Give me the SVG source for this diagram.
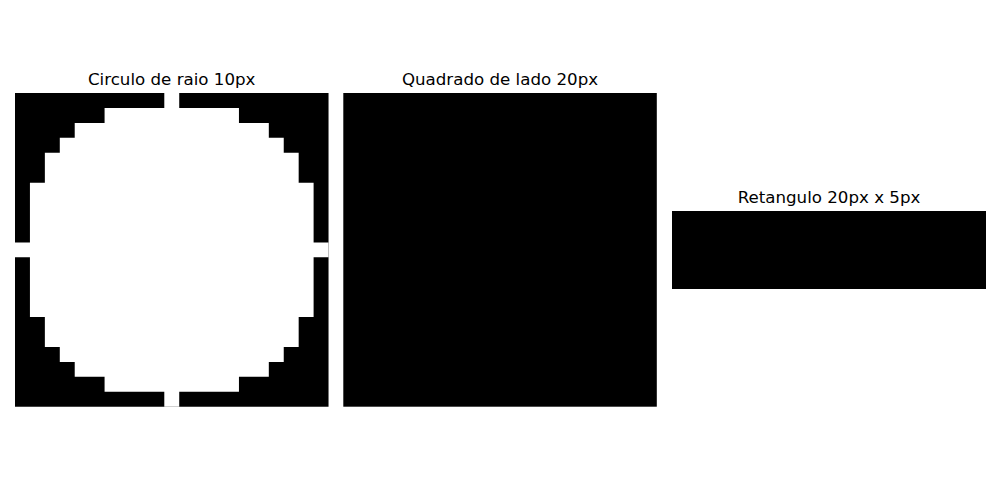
<svg xmlns="http://www.w3.org/2000/svg" width="1000" height="500" viewBox="0 0 1000 500">
<style>
.t{font-family:"DejaVu Sans",sans-serif;font-size:16.67px;fill:#000;text-anchor:middle}
.b{fill:#000}
.w{fill:#fff}
</style>
<rect width="1000" height="500" fill="#fff"/>
<g id="circulo">
<text class="t" x="171.7" y="85">Circulo de raio 10px</text>
<g transform="translate(15,93) scale(14.93,14.94)">
<rect class="b" x="0" y="0" width="21" height="21"/>
<path class="w" d="M10,0H11V1H15V2H17V3H18V4H19V6H20V10H21V11H20V15H19V17H18V18H17V19H15V20H11V21H10V20H6V19H4V18H3V17H2V15H1V11H0V10H1V6H2V4H3V3H4V2H6V1H10Z"/>
</g>
</g>
<g id="quadrado">
<text class="t" x="500" y="85">Quadrado de lado 20px</text>
<rect class="b" x="343.3" y="93" width="313.5" height="313.7"/>
</g>
<g id="retangulo">
<text class="t" x="829" y="203">Retangulo 20px x 5px</text>
<rect class="b" x="672" y="211" width="314" height="78"/>
</g>
<g id="connectors"></g>
</svg>
